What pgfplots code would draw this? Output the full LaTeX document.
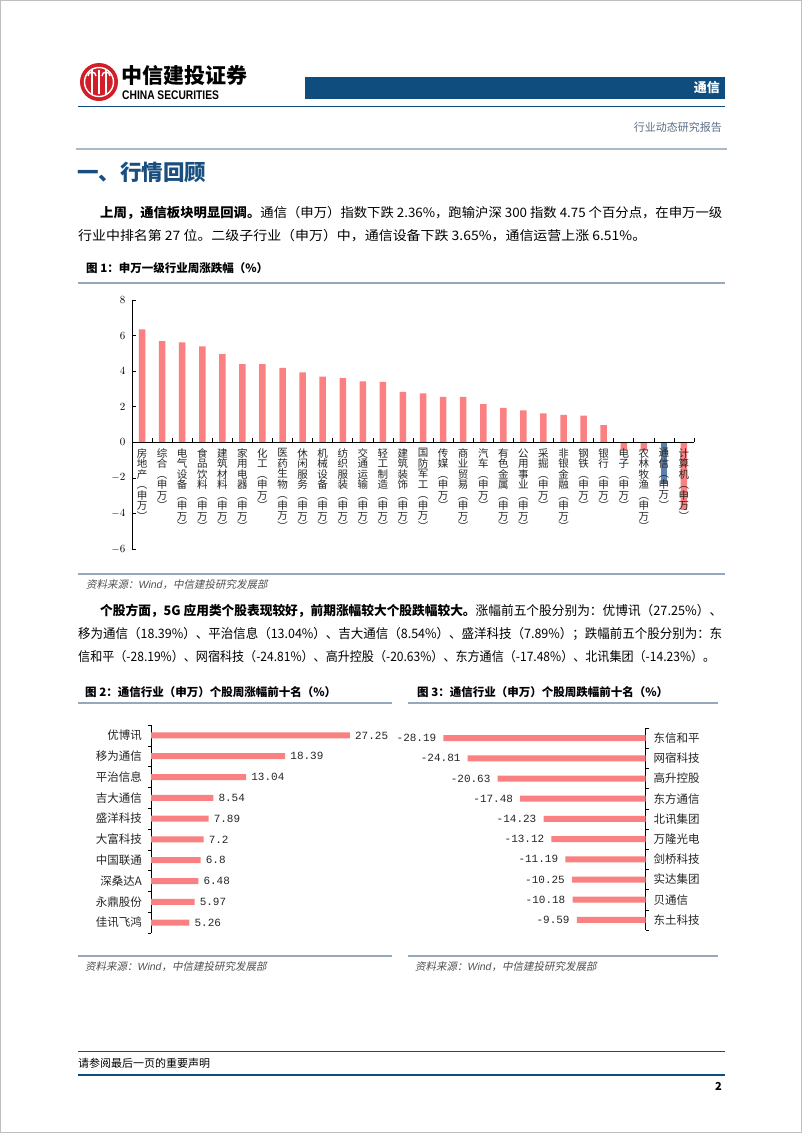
\documentclass[border=0pt]{standalone}
\usepackage{fontspec}
\usepackage{pgfplots}
\pgfplotsset{compat=1.18}
\setmainfont{Noto Sans CJK SC}
\newfontfamily\cjkit[FakeSlant=0.2]{Noto Sans CJK SC}
\newfontfamily\mono{Liberation Mono}
\newfontfamily\arial{Liberation Sans}
\definecolor{barred}{RGB}{250,128,130}
\definecolor{barblue}{RGB}{92,128,168}
\definecolor{hdrblue}{RGB}{14,77,125}
\definecolor{ttlblue}{RGB}{25,78,128}
\definecolor{rulegray}{RGB}{150,168,185}
\definecolor{srcgray}{RGB}{80,80,80}
\definecolor{logored}{RGB}{210,30,40}
\newcommand{\sw}{\\︵\\申\\万\\︶}
\newcommand{\fitline}[2]{\resizebox{#1}{\height}{#2}}
\begin{document}
\begin{tikzpicture}
\useasboundingbox (0,0) rectangle (802pt,-1133pt);
\fill[white] (0,0) rectangle (802pt,-1133pt);
\draw[gray!50, line width=0.8pt] (0.4pt,-0.4pt) rectangle (801.6pt,-1132.6pt);

% header
\fill[logored] (99pt,-82pt) circle (19pt);
\draw[white, line width=1.4pt] (99pt,-82pt) circle (14.5pt);
\foreach \xx in {92,99,106} \draw[white, line width=1.6pt] (\xx pt,-70pt) -- (\xx pt,-94pt);
\draw[white, line width=1.4pt] (88pt,-76pt) arc (180:0:4pt);
\draw[white, line width=1.4pt] (102pt,-76pt) arc (180:0:4pt);
\node[anchor=west, inner sep=0, font=\bfseries\fontsize{21}{21}\selectfont] at (121pt,-75pt) {中信建投证券};
\node[anchor=west, inner sep=0, font=\arial\bfseries\fontsize{12.5}{12.5}\selectfont] at (122pt,-95pt) {\scalebox{0.82}[1]{CHINA SECURITIES}};
\fill[hdrblue] (305pt,-77pt) rectangle (725pt,-99pt);
\node[anchor=east, inner sep=0, text=white, font=\bfseries\fontsize{13}{13}\selectfont] at (720pt,-88pt) {通信};
\draw[hdrblue, line width=1pt] (78pt,-106pt) -- (725pt,-106pt);
\node[anchor=east, inner sep=0, text={rgb,255:red,90;green,110;blue,135}, font=\fontsize{11}{11}\selectfont] at (722pt,-127pt) {行业动态研究报告};
\draw[rulegray!80, line width=2pt] (76pt,-149pt) -- (727pt,-149pt);

% section title and paragraph
\node[anchor=west, inner sep=0, text=ttlblue, font=\bfseries\fontsize{21.5}{21.5}\selectfont] at (77pt,-172pt) {一、行情回顾};
\node[anchor=west, inner sep=0, font=\fontsize{13}{13}\selectfont] at (100pt,-213pt) {\fitline{622pt}{\textbf{上周，通信板块明显回调。}通信（申万）指数下跌 2.36\%，跑输沪深 300 指数 4.75 个百分点，在申万一级}};
\node[anchor=west, inner sep=0, font=\fontsize{13}{13}\selectfont] at (78pt,-236pt) {\fitline{568pt}{行业中排名第 27 位。二级子行业（申万）中，通信设备下跌 3.65\%，通信运营上涨 6.51\%。}};

% figure 1
\node[anchor=west, inner sep=0, font=\bfseries\fontsize{11.5}{11.5}\selectfont] at (86pt,-268pt) {图 1：申万一级行业周涨跌幅（\%）};
\draw[rulegray, line width=1.2pt] (78pt,-283pt) -- (725pt,-283pt);
\draw[rulegray, line width=1.2pt] (78pt,-574pt) -- (725pt,-574pt);
\node[anchor=west, inner sep=0, text=srcgray, font=\cjkit\fontsize{10.5}{10.5}\selectfont] at (86pt,-585pt) {资料来源：{\arial\itshape Wind}，中信建投研究发展部};

\begin{axis}[at={(132pt,-549pt)}, anchor=south west, scale only axis,
  width=562pt, height=249pt, clip=false, axis on top,
  ybar, bar width=6.5pt, bar shift=0pt,
  xmin=-0.5, xmax=27.5, ymin=-6, ymax=8,
  ytick={-6,-4,...,8},
  axis x line=middle, axis y line=left,
  axis line style={-, black, line width=0.6pt},
  tick style={black, line width=0.6pt},
  tick align=inside,
  xtick={0,...,27}, major x tick style={draw=none},
  minor xtick={-0.5,0.5,...,27.5}, minor tick length=4pt,
  xticklabels={{房\\地\\产\sw},{综\\合\sw},{电\\气\\设\\备\sw},{食\\品\\饮\\料\sw},{建\\筑\\材\\料\sw},{家\\用\\电\\器\sw},{化\\工\sw},{医\\药\\生\\物\sw},{休\\闲\\服\\务\sw},{机\\械\\设\\备\sw},{纺\\织\\服\\装\sw},{交\\通\\运\\输\sw},{轻\\工\\制\\造\sw},{建\\筑\\装\\饰\sw},{国\\防\\军\\工\sw},{传\\媒\sw},{商\\业\\贸\\易\sw},{汽\\车\sw},{有\\色\\金\\属\sw},{公\\用\\事\\业\sw},{采\\掘\sw},{非\\银\\金\\融\sw},{钢\\铁\sw},{银\\行\sw},{电\\子\sw},{农\\林\\牧\\渔\sw},{通\\信\sw},{计\\算\\机\sw}},
  xticklabel style={font=\fontsize{10.5}{10.5}\selectfont, align=center, anchor=north, inner sep=0pt, yshift=-6pt, text=black!85},
  yticklabel style={font=\fontsize{11}{11}\selectfont, xshift=-3pt},
]
\addplot[fill=barred, draw=none] coordinates {
(0,6.35) (1,5.69) (2,5.62) (3,5.39) (4,4.96) (5,4.40) (6,4.40) (7,4.19)
(8,3.93) (9,3.69) (10,3.61) (11,3.43) (12,3.39) (13,2.83) (14,2.75)
(15,2.55) (16,2.55) (17,2.15) (18,1.93) (19,1.80) (20,1.63) (21,1.54)
(22,1.50) (23,0.97) (24,-0.42) (25,-0.45) (27,-3.80)};
\addplot[fill=barblue, draw=none] coordinates {(26,-2.36)};
\end{axis}

% paragraph 2
\node[anchor=west, inner sep=0, font=\fontsize{13}{13}\selectfont] at (100pt,-611pt) {\fitline{622pt}{\textbf{个股方面，5G 应用类个股表现较好，前期涨幅较大个股跌幅较大。}涨幅前五个股分别为：优博讯（27.25\%）、}};
\node[anchor=west, inner sep=0, font=\fontsize{13}{13}\selectfont] at (78pt,-634pt) {\fitline{644pt}{移为通信（18.39\%）、平治信息（13.04\%）、吉大通信（8.54\%）、盛洋科技（7.89\%）；跌幅前五个股分别为：东}};
\node[anchor=west, inner sep=0, font=\fontsize{13}{13}\selectfont] at (78pt,-657pt) {\fitline{637pt}{信和平（-28.19\%）、网宿科技（-24.81\%）、高升控股（-20.63\%）、东方通信（-17.48\%）、北讯集团（-14.23\%）。}};

% figure 2
\node[anchor=west, inner sep=0, font=\bfseries\fontsize{11.5}{11.5}\selectfont] at (85pt,-692pt) {图 2：通信行业（申万）个股周涨幅前十名（\%）};
\draw[rulegray, line width=1.2pt] (78pt,-703pt) -- (392pt,-703pt);
\draw[rulegray, line width=1.2pt] (78pt,-956pt) -- (392pt,-956pt);
\node[anchor=west, inner sep=0, text=srcgray, font=\cjkit\fontsize{10.5}{10.5}\selectfont] at (85pt,-967pt) {资料来源：{\arial\itshape Wind}，中信建投研究发展部};

\begin{axis}[at={(151pt,-933pt)}, anchor=south west, scale only axis,
  width=219pt, height=208pt, clip=false,
  xbar, bar width=6pt, bar shift=0pt,
  xmin=0, xmax=30, ymin=-0.5, ymax=9.5, y dir=reverse,
  axis x line=none, axis y line=left,
  axis line style={-, black, line width=0.6pt},
  tick style={black, line width=0.6pt},
  ytick={0,...,9}, major tick length=0pt,
  minor ytick={-0.5,0.5,...,9.5}, minor tick length=3.5pt, tick align=outside,
  yticklabels={优博讯,移为通信,平治信息,吉大通信,盛洋科技,大富科技,中国联通,深桑达A,永鼎股份,佳讯飞鸿},
  yticklabel style={font=\fontsize{11.5}{11.5}\selectfont, inner sep=0pt, xshift=-9pt, text=black!85},
  nodes near coords,
  nodes near coords style={font=\mono\fontsize{11}{11}\selectfont, anchor=west, inner sep=0pt, xshift=5pt, text=black!85},
  /pgf/number format/assume math mode=true,
]
\addplot[fill=barred, draw=none] coordinates {
(27.25,0) (18.39,1) (13.04,2) (8.54,3) (7.89,4) (7.2,5) (6.8,6) (6.48,7) (5.97,8) (5.26,9)};
\end{axis}

% figure 3
\node[anchor=west, inner sep=0, font=\bfseries\fontsize{11.5}{11.5}\selectfont] at (417pt,-692pt) {图 3：通信行业（申万）个股周跌幅前十名（\%）};
\draw[rulegray, line width=1.2pt] (408pt,-703pt) -- (718pt,-703pt);
\draw[rulegray, line width=1.2pt] (408pt,-956pt) -- (718pt,-956pt);
\node[anchor=west, inner sep=0, text=srcgray, font=\cjkit\fontsize{10.5}{10.5}\selectfont] at (415pt,-967pt) {资料来源：{\arial\itshape Wind}，中信建投研究发展部};

\begin{axis}[at={(430.5pt,-930pt)}, anchor=south west, scale only axis,
  width=215pt, height=202pt, clip=false,
  xbar, bar width=6pt, bar shift=0pt,
  xmin=-30, xmax=0, ymin=-0.5, ymax=9.5, y dir=reverse,
  axis x line=none, axis y line=right,
  axis line style={-, black, line width=0.6pt},
  tick style={black, line width=0.6pt},
  ytick={0,...,9}, major tick length=0pt,
  minor ytick={-0.5,0.5,...,9.5}, minor tick length=3.5pt, tick align=outside,
  yticklabels={东信和平,网宿科技,高升控股,东方通信,北讯集团,万隆光电,剑桥科技,实达集团,贝通信,东土科技},
  yticklabel style={font=\fontsize{11.5}{11.5}\selectfont, inner sep=0pt, xshift=8pt, anchor=west, text=black!85},
  nodes near coords,
  nodes near coords style={font=\mono\fontsize{11}{11}\selectfont, anchor=east, inner sep=0pt, xshift=-7pt, text=black!85},
  /pgf/number format/assume math mode=true,
]
\addplot[fill=barred, draw=none] coordinates {
(-28.19,0) (-24.81,1) (-20.63,2) (-17.48,3) (-14.23,4) (-13.12,5) (-11.19,6) (-10.25,7) (-10.18,8) (-9.59,9)};
\end{axis}

% footer
\draw[hdrblue, line width=0.8pt] (78pt,-1051pt) -- (725pt,-1051pt);
\node[anchor=west, inner sep=0, font=\fontsize{11}{11}\selectfont] at (78pt,-1063pt) {请参阅最后一页的重要声明};
\draw[hdrblue, line width=2.5pt] (78pt,-1075pt) -- (725pt,-1075pt);
\node[anchor=east, inner sep=0, font=\bfseries\fontsize{11}{11}\selectfont] at (722pt,-1086pt) {2};
\end{tikzpicture}
\end{document}
